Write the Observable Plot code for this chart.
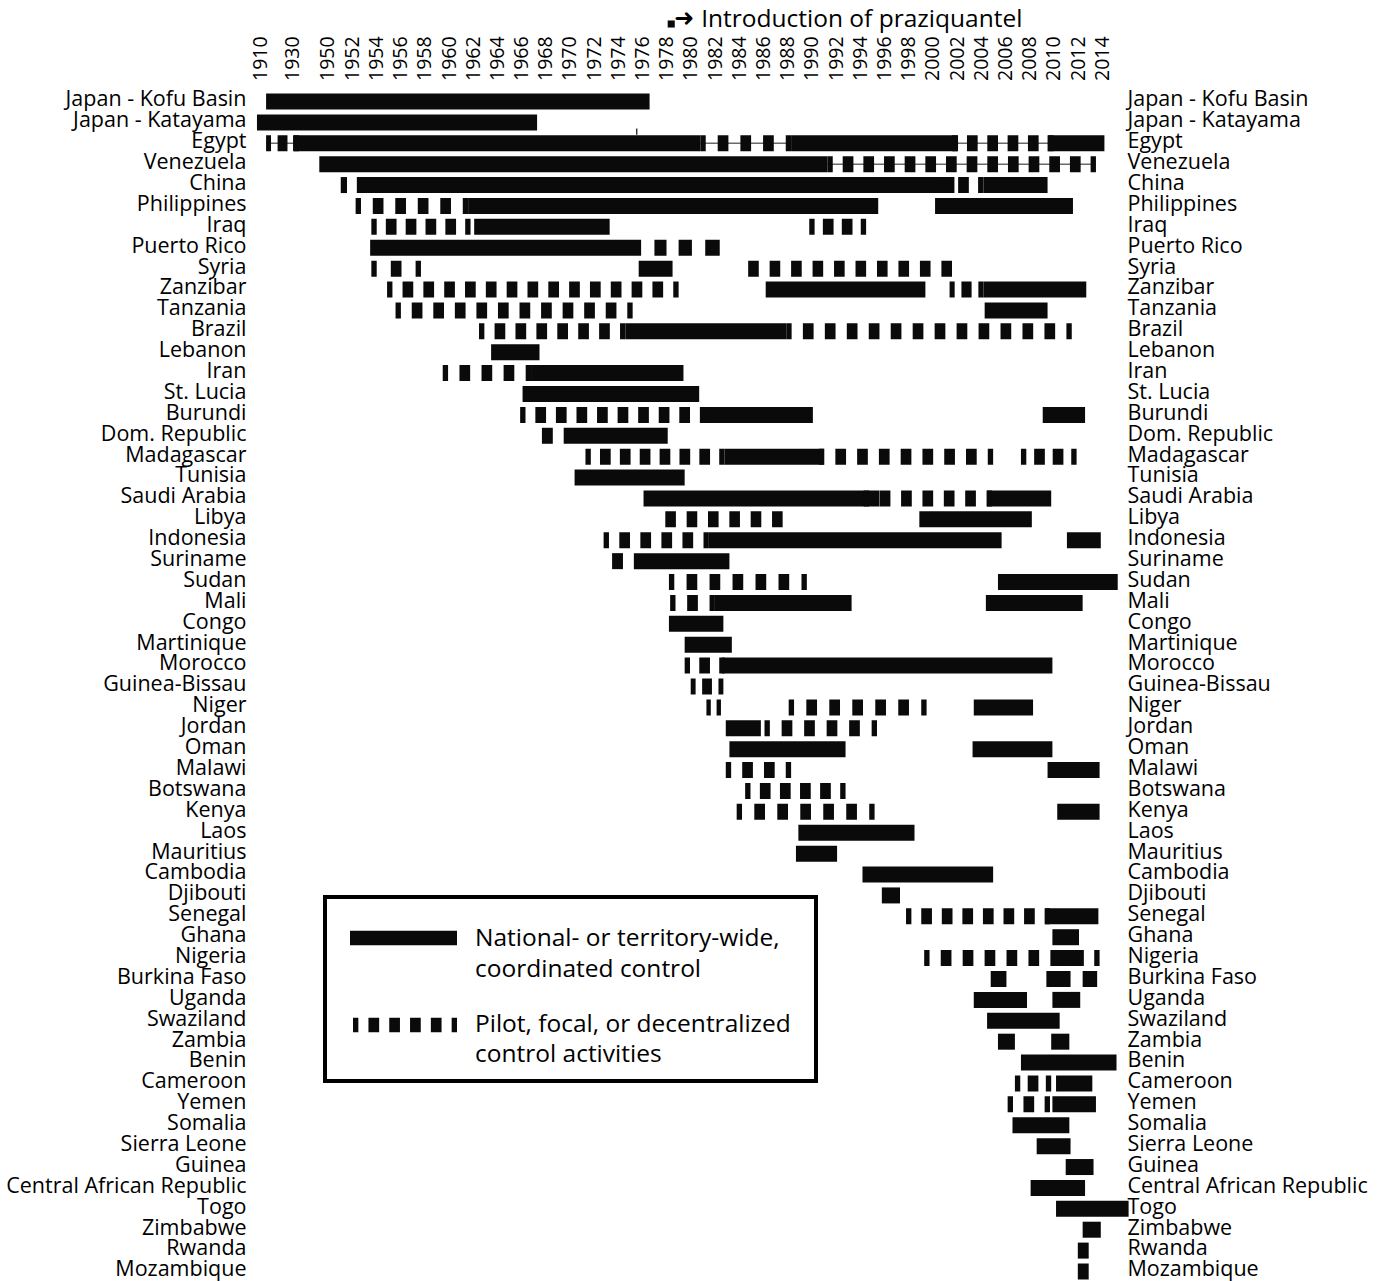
<!DOCTYPE html>
<html>
<head>
<meta charset="utf-8">
<script src="https://cdn.jsdelivr.net/npm/d3@7"></script>
<script src="https://cdn.jsdelivr.net/npm/@observablehq/plot@0.6"></script>
<style>
  html, body { margin: 0; padding: 0; background: #fff; }
  #wrap { position: relative; width: 1387px; height: 1281px; font-family: "Open Sans", sans-serif; }
  #legend { position: absolute; left: 323px; top: 895px; width: 495px; height: 188px; box-sizing: border-box; border: 4px solid #000; }
  #legend svg { position: absolute; left: -4px; top: -4px; }
</style>
</head>
<body>
<div id="wrap"></div>
<script>
// ---------------- data ----------------
const countries = [
  "Japan - Kofu Basin", "Japan - Katayama", "Egypt", "Venezuela", "China", "Philippines", "Iraq",
  "Puerto Rico", "Syria", "Zanzibar", "Tanzania", "Brazil", "Lebanon", "Iran", "St. Lucia", "Burundi",
  "Dom. Republic", "Madagascar", "Tunisia", "Saudi Arabia", "Libya", "Indonesia", "Suriname", "Sudan",
  "Mali", "Congo", "Martinique", "Morocco", "Guinea-Bissau", "Niger", "Jordan", "Oman", "Malawi",
  "Botswana", "Kenya", "Laos", "Mauritius", "Cambodia", "Djibouti", "Senegal", "Ghana", "Nigeria",
  "Burkina Faso", "Uganda", "Swaziland", "Zambia", "Benin", "Cameroon", "Yemen", "Somalia",
  "Sierra Leone", "Guinea", "Central African Republic", "Togo", "Zimbabwe", "Rwanda", "Mozambique"
];

const yearTicks = [1910, 1930, 1950, 1952, 1954, 1956, 1958, 1960, 1962, 1964, 1966, 1968, 1970,
  1972, 1974, 1976, 1978, 1980, 1982, 1984, 1986, 1988, 1990, 1992, 1994, 1996, 1998, 2000, 2002,
  2004, 2006, 2008, 2010, 2012, 2014];

// National- or territory-wide, coordinated control: [country, start, end]
const national = [
  ["Japan - Kofu Basin", 1913.8, 1976.6],
  ["Japan - Katayama", 1908.1, 1967.3],
  ["Egypt", 1930.6, 1980.8], ["Egypt", 1988.3, 2002.1], ["Egypt", 2009.5, 2014.2],
  ["Venezuela", 1945.6, 1991.3],
  ["China", 1952.4, 2001.8], ["China", 2004.2, 2009.5],
  ["Philippines", 1961.6, 1995.5], ["Philippines", 2000.2, 2011.6],
  ["Iraq", 1962.1, 1973.3],
  ["Puerto Rico", 1953.5, 1975.9], ["Puerto Rico", 1977.0, 1978.0], ["Puerto Rico", 1979.0, 1980.1], ["Puerto Rico", 1981.2, 1982.4],
  ["Syria", 1975.7, 1978.5],
  ["Zanzibar", 1986.2, 1999.4], ["Zanzibar", 2004.2, 2012.7],
  ["Tanzania", 2004.3, 2009.5],
  ["Brazil", 1974.6, 1987.9],
  ["Lebanon", 1963.5, 1967.5],
  ["Iran", 1966.8, 1979.4],
  ["St. Lucia", 1966.1, 1980.7],
  ["Burundi", 1980.8, 1990.1], ["Burundi", 2009.1, 2012.6],
  ["Dom. Republic", 1969.5, 1978.1],
  ["Madagascar", 1982.8, 1991.0],
  ["Tunisia", 1970.4, 1979.5],
  ["Saudi Arabia", 1976.1, 1995.6], ["Saudi Arabia", 2004.5, 2009.8],
  ["Libya", 1998.9, 2008.2],
  ["Indonesia", 1981.5, 2005.7], ["Indonesia", 2011.1, 2013.9],
  ["Suriname", 1975.3, 1983.2],
  ["Sudan", 2005.4, 2015.3],
  ["Mali", 1982.0, 1993.3], ["Mali", 2004.4, 2012.4],
  ["Congo", 1978.2, 1982.7],
  ["Martinique", 1979.5, 1983.4],
  ["Morocco", 1982.6, 2009.9],
  ["Niger", 2003.4, 2008.3],
  ["Jordan", 1982.9, 1985.8],
  ["Oman", 1983.2, 1992.8], ["Oman", 2003.3, 2009.9],
  ["Malawi", 2009.5, 2013.8],
  ["Kenya", 2010.3, 2013.8],
  ["Laos", 1988.9, 1998.5],
  ["Mauritius", 1988.7, 1992.1],
  ["Cambodia", 1994.2, 2005.0],
  ["Djibouti", 1995.8, 1997.3],
  ["Senegal", 2009.3, 2013.7],
  ["Ghana", 2009.9, 2012.1],
  ["Nigeria", 2009.8, 2012.5],
  ["Burkina Faso", 2004.8, 2006.1], ["Burkina Faso", 2009.4, 2011.4], ["Burkina Faso", 2012.4, 2013.6],
  ["Uganda", 2003.4, 2007.8], ["Uganda", 2009.9, 2012.2],
  ["Swaziland", 2004.5, 2010.5],
  ["Zambia", 2005.4, 2006.8], ["Zambia", 2009.8, 2011.3],
  ["Benin", 2007.3, 2015.2],
  ["Cameroon", 2010.2, 2013.2],
  ["Yemen", 2009.9, 2013.5],
  ["Somalia", 2006.6, 2011.3],
  ["Sierra Leone", 2008.6, 2011.4],
  ["Guinea", 2011.0, 2013.3],
  ["Central African Republic", 2008.1, 2012.6],
  ["Togo", 2010.2, 2016.2],
  ["Zimbabwe", 2012.4, 2013.9],
  ["Rwanda", 2012.0, 2012.9],
  ["Mozambique", 2012.0, 2012.9]
];

// Pilot, focal, or decentralized control activities: [country, start, end, dash style]
// "h": dashes with half-dashes at the ends, "f": full dashes at the ends, "l": like "h" over a thin line
const pilot = [
  ["Egypt", 1913.8, 1934.0, "l"], ["Egypt", 1980.8, 1988.3, "l"], ["Egypt", 2001.6, 2010.0, "l"],
  ["Venezuela", 1991.3, 2013.5, "l"],
  ["China", 1951.1, 1951.6, "f"], ["China", 2000.9, 2004.2, "h"],
  ["Philippines", 1952.3, 1961.6, "h"],
  ["Iraq", 1953.6, 1961.8, "h"], ["Iraq", 1989.8, 1994.5, "h"],
  ["Syria", 1953.6, 1957.7, "h"], ["Syria", 1984.75, 2001.6, "f"],
  ["Zanzibar", 1954.9, 1979.0, "h"], ["Zanzibar", 2001.4, 2004.2, "h"],
  ["Tanzania", 1955.6, 1975.2, "h"],
  ["Brazil", 1962.5, 1974.6, "h"], ["Brazil", 1987.9, 2011.5, "h"],
  ["Iran", 1959.5, 1966.8, "h"],
  ["Burundi", 1965.9, 1981.2, "h"],
  ["Dom. Republic", 1967.7, 1968.6, "f"],
  ["Madagascar", 1971.3, 1982.8, "h"], ["Madagascar", 1990.6, 2005.0, "h"], ["Madagascar", 2007.3, 2011.9, "h"],
  ["Saudi Arabia", 1994.3, 2004.9, "h"],
  ["Libya", 1977.9, 1987.6, "f"],
  ["Indonesia", 1972.8, 1981.5, "h"],
  ["Suriname", 1973.5, 1974.4, "f"],
  ["Sudan", 1978.2, 1989.6, "h"],
  ["Mali", 1978.3, 1982.0, "h"],
  ["Morocco", 1979.5, 1982.8, "h"],
  ["Guinea-Bissau", 1980.0, 1982.7, "h"],
  ["Niger", 1981.3, 1982.5, "h"], ["Niger", 1988.1, 1999.5, "h"],
  ["Jordan", 1986.1, 1995.4, "h"],
  ["Malawi", 1982.9, 1988.3, "h"],
  ["Botswana", 1984.5, 1992.8, "h"],
  ["Kenya", 1983.8, 1995.2, "h"],
  ["Senegal", 1997.8, 2009.7, "h"],
  ["Nigeria", 1999.3, 2013.8, "h"],
  ["Cameroon", 2006.8, 2009.8, "h"],
  ["Yemen", 2006.2, 2009.7, "h"]
];

const praziquantel = [{year: 1978.1, label: "Introduction of praziquantel"}];
const marker = [{year: 1975.5, from: "Japan - Katayama", to: "Egypt"}];

const legendItems = ["National- or territory-wide,", "coordinated control", "Pilot, focal, or decentralized", "control activities"];

// ---------------- scales & helpers ----------------
const W = 1387, H = 1281;
const ink = "#0a0a0a";
const xDomain = [1910, 1930, 1950, 1952, 2014];
const xRange = [260, 292, 327, 352, 1102];
const px = d3.scaleLinear().domain(xDomain).range(xRange);

function dashStyle(L, kind) {
  if (kind === "f") {
    const d = 10.6, g0 = 10.4;
    const n = Math.max(1, Math.round((L + g0) / (d + g0)));
    if (n === 1) return {dasharray: `${L + 1},${L + 1}`, offset: 0};
    const g = (L - n * d) / (n - 1);
    return {dasharray: `${d},${g}`, offset: 0};
  }
  const n = Math.max(1, Math.round(L / 21.3));
  const p = L / n;
  const d = Math.min(10.7, 0.6 * p);
  return {dasharray: `${d},${p - d}`, offset: d / 2};
}

const BAR = 16;

const lineMarks = Plot.ruleY(pilot.filter(d => d[3] === "l"), {
  y: d => d[0], x1: d => d[1], x2: d => d[2], stroke: "#6a6a6a", strokeWidth: 1.6
});

const pilotMarks = pilot.map(seg => {
  const s = dashStyle(Math.abs(px(seg[2]) - px(seg[1])), seg[3]);
  return Plot.ruleY([seg], {
    y: d => d[0], x1: d => d[1], x2: d => d[2],
    stroke: ink, strokeWidth: BAR,
    strokeDasharray: s.dasharray, strokeDashoffset: s.offset
  });
});

const chart = Plot.plot({
  width: W,
  height: H,
  marginTop: 90.5,
  marginLeft: 256,
  marginRight: 270,
  marginBottom: 0,
  style: {fontFamily: "'Open Sans', sans-serif", fontSize: "21.5px", background: "#fff", color: "#000", overflow: "visible"},
  x: {type: "linear", domain: xDomain, range: xRange},
  y: {type: "point", domain: countries, range: [101, 1271], padding: 0, round: false},
  marks: [
    lineMarks,
    Plot.ruleY(national, {y: d => d[0], x1: d => d[1], x2: d => d[2], stroke: ink, strokeWidth: BAR}),
    ...pilotMarks,
    Plot.ruleX(marker, {x: "year", y1: "from", y2: "to", insetTop: 6.5, insetBottom: 8, stroke: ink, strokeWidth: 1.2}),
    Plot.axisX(yearTicks, {anchor: "top", tickSize: 0, tickPadding: 10, tickRotate: -90, fontSize: 19.5, label: null, tickFormat: d => String(d)}),
    Plot.axisY({anchor: "left", tickSize: 0, tickPadding: 10, label: null, fontSize: 21.5, dy: -2}),
    Plot.axisY({anchor: "right", tickSize: 0, tickPadding: 10, label: null, fontSize: 21.5, dy: -2}),
    Plot.dot(praziquantel, {x: "year", frameAnchor: "top", dy: -67, dx: 3, symbol: "square", r: 4, fill: ink}),
    Plot.text(praziquantel, {x: "year", text: () => "\u279C", frameAnchor: "top", lineAnchor: "middle", dy: -73, dx: 6, textAnchor: "start", fontFamily: "DejaVu Sans", fontSize: 24, fontWeight: "bold"}),
    Plot.text(praziquantel, {x: "year", text: "label", frameAnchor: "top", lineAnchor: "middle", dy: -71.5, dx: 33, textAnchor: "start", fontSize: 24.5})
  ]
});

const wrap = document.getElementById("wrap");
wrap.appendChild(chart);

// ---------------- legend (boxed key inside the chart area) ----------------
const legend = document.createElement("div");
legend.id = "legend";
wrap.appendChild(legend);
const lsvg = d3.select(legend).append("svg").attr("width", 495).attr("height", 188)
  .style("font-family", "'Open Sans', sans-serif").style("font-size", "24.5px");
lsvg.append("line").attr("x1", 27).attr("x2", 134).attr("y1", 43).attr("y2", 43)
  .attr("stroke", ink).attr("stroke-width", 14.3);
const ls = dashStyle(104, "h");
lsvg.append("line").attr("x1", 30).attr("x2", 134).attr("y1", 130).attr("y2", 130)
  .attr("stroke", ink).attr("stroke-width", 14.3)
  .attr("stroke-dasharray", ls.dasharray).attr("stroke-dashoffset", ls.offset);
const baselines = [51, 82, 137, 167];
legendItems.forEach((t, i) => {
  lsvg.append("text").attr("x", 152).attr("y", baselines[i]).attr("fill", "#000").text(t);
});
</script>
</body>
</html>
